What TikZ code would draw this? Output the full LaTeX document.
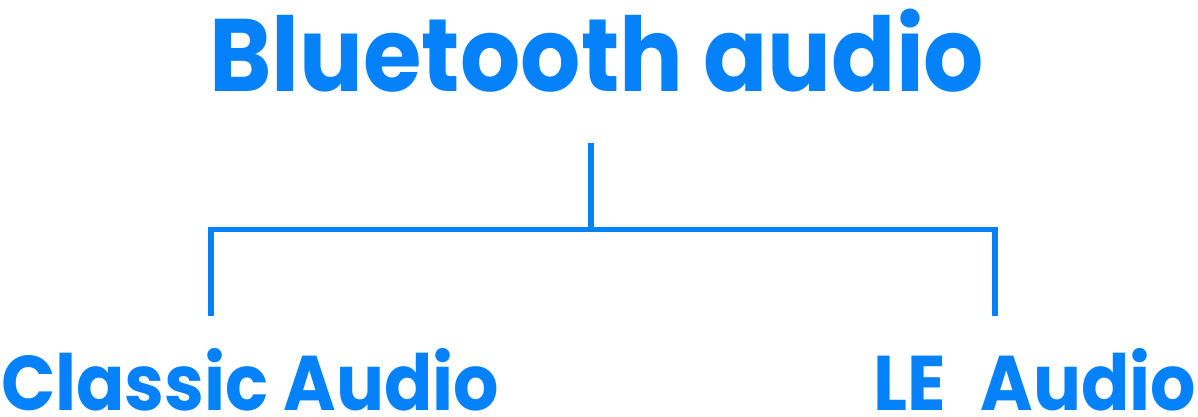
\documentclass[tikz,border=0pt]{standalone}
\usepackage{fontspec}
\newfontfamily\labelfont{Poppins Bold}[FakeStretch=0.92]
\newcommand\widespacing{\spaceskip=0.45em plus 0.1em\relax}
\definecolor{btblue}{RGB}{5,130,250}
\tikzset{
  heading/.style={inner sep=0pt, anchor=base west, text=btblue, font=\labelfont\fontsize{103}{103}\selectfont},
  branchlabel/.style={inner sep=0pt, anchor=base west, text=btblue, font=\labelfont\fontsize{77.5}{77.5}\selectfont},
  branch/.style={draw=btblue, line width=5.5pt}
}
\begin{document}
\begin{tikzpicture}[x=1pt,y=-1pt]
\useasboundingbox (0,0) rectangle (1198,416);

% title and the two kinds
\node [heading] (title) at (209,91) {Bluetooth audio};
\node [branchlabel] (classic) at (1,410) {Classic Audio};
\node [branchlabel] (le) at (873,410) {\widespacing LE Audio};

% tree
\coordinate (top) at (591,143);
\coordinate (fork) at (591,229.5);
\coordinate (lefttip) at (211,316);
\coordinate (righttip) at (995,316);
\draw [branch] (top) -- (fork);
\draw [branch] (lefttip) -- (lefttip |- fork) -- (righttip |- fork) -- (righttip);
\end{tikzpicture}
\end{document}
